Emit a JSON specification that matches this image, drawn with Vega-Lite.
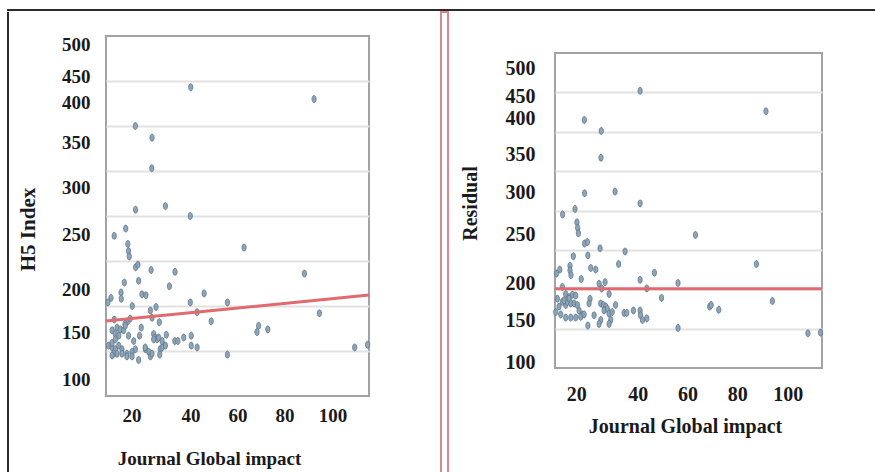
{
  "$schema": "https://vega.github.io/schema/vega-lite/v6.json",
  "padding": {"left": 7, "top": 9, "right": 0, "bottom": 0},
  "background": "white",
  "config": {
    "view": {"stroke": null},
    "font": "Liberation Serif",
    "axis": {
      "labelFont": "Liberation Serif", "labelFontWeight": "bold", "labelColor": "#1a1a1a",
      "titleFont": "Liberation Serif", "titleFontWeight": "bold", "titleColor": "#1a1a1a",
      "ticks": false, "domain": false, "labelOverlap": false, "labelFlush": false, "labelBound": false
    }
  },
  "datasets": {
    "h5": [
      {"x":40.1,"y":443},{"x":92.6,"y":430},{"x":16.5,"y":400},{"x":23.6,"y":387},{"x":23.5,"y":353},{"x":29.3,"y":311},{"x":16.6,"y":307},{"x":39.9,"y":300},{"x":12.4,"y":286},{"x":7.5,"y":278},{"x":62.8,"y":265},{"x":13.3,"y":269},{"x":13.6,"y":261},{"x":13.9,"y":255},{"x":16.6,"y":243},{"x":17.6,"y":246},{"x":23.2,"y":240},{"x":33.4,"y":238},{"x":88.5,"y":236},{"x":11.8,"y":226},{"x":17.9,"y":228},{"x":31,"y":222},{"x":45.8,"y":214},{"x":19.3,"y":213},{"x":21,"y":212},{"x":10.4,"y":215},{"x":10.5,"y":208},{"x":6.1,"y":209},{"x":4.8,"y":204},{"x":15.2,"y":200},{"x":39.9,"y":204},{"x":55.7,"y":204},{"x":25.3,"y":199},{"x":22.9,"y":195},{"x":42.8,"y":193},{"x":94.9,"y":192},{"x":23.6,"y":187},{"x":7.5,"y":185},{"x":13.3,"y":183},{"x":12.1,"y":180},{"x":26.7,"y":182},{"x":48.8,"y":183},{"x":14.3,"y":186},{"x":19,"y":176},{"x":8.7,"y":176},{"x":10.1,"y":174},{"x":11.5,"y":173},{"x":69,"y":178},{"x":68.3,"y":171},{"x":72.9,"y":174},{"x":6.6,"y":173},{"x":8,"y":169},{"x":9.4,"y":167},{"x":13.6,"y":167},{"x":18.3,"y":167},{"x":24.3,"y":169},{"x":25,"y":165},{"x":25.7,"y":163},{"x":29.7,"y":168},{"x":33.3,"y":161},{"x":34.6,"y":161},{"x":37.1,"y":165},{"x":40.3,"y":167},{"x":40.3,"y":156},{"x":42.8,"y":154},{"x":5.1,"y":156},{"x":6.6,"y":154},{"x":8,"y":152},{"x":9.4,"y":156},{"x":10.8,"y":152},{"x":16.5,"y":152},{"x":20.8,"y":152},{"x":22.2,"y":149},{"x":27.1,"y":152},{"x":28.5,"y":156},{"x":109.9,"y":154},{"x":115.4,"y":157},{"x":55.7,"y":146},{"x":17.9,"y":140},{"x":7.3,"y":147},{"x":8.7,"y":147},{"x":10.8,"y":147},{"x":12.9,"y":147},{"x":15.1,"y":149},{"x":22.9,"y":144},{"x":26.9,"y":146},{"x":27.9,"y":154},{"x":6.6,"y":159},{"x":8,"y":163},{"x":12.2,"y":178},{"x":15.8,"y":161},{"x":6.6,"y":145},{"x":12.9,"y":144},{"x":15.1,"y":144},{"x":20.7,"y":154},{"x":24.3,"y":163},{"x":26.4,"y":165},{"x":27.9,"y":161},{"x":29.3,"y":156},{"x":23.6,"y":147}
    ],
    "h5fit": [{"x":4,"y":183.3},{"x":116,"y":212.2}],
    "res": [
      {"x":39.7,"y":452},{"x":92.5,"y":426},{"x":16.3,"y":415},{"x":23.4,"y":401},{"x":23.3,"y":367},{"x":29.2,"y":324},{"x":16.4,"y":322},{"x":39.7,"y":309},{"x":12.4,"y":302},{"x":7.2,"y":295},{"x":62.9,"y":269},{"x":13.2,"y":285},{"x":13.5,"y":278},{"x":13.8,"y":271},{"x":16.4,"y":258},{"x":17.6,"y":260},{"x":22.9,"y":252},{"x":33.4,"y":248},{"x":88.5,"y":232},{"x":11.7,"y":242},{"x":17.8,"y":243},{"x":30.7,"y":232},{"x":45.7,"y":221},{"x":19,"y":227},{"x":21.1,"y":225},{"x":10.3,"y":230},{"x":10.3,"y":224},{"x":10.7,"y":218},{"x":6,"y":225},{"x":4.6,"y":220},{"x":15,"y":213},{"x":39.7,"y":212},{"x":55.6,"y":208},{"x":25,"y":209},{"x":22.5,"y":207},{"x":23.6,"y":201},{"x":7.1,"y":203},{"x":42.5,"y":201},{"x":95.2,"y":185},{"x":48.7,"y":189},{"x":26.7,"y":194},{"x":8.5,"y":194},{"x":9.9,"y":190},{"x":11.3,"y":193},{"x":12.7,"y":192},{"x":5,"y":188},{"x":7.1,"y":184},{"x":8.5,"y":180},{"x":9.2,"y":184},{"x":7.8,"y":186},{"x":9.9,"y":188},{"x":10.6,"y":182},{"x":12,"y":182},{"x":13.4,"y":180},{"x":14.1,"y":173},{"x":15.5,"y":168},{"x":4.3,"y":171},{"x":6.4,"y":168},{"x":8.5,"y":164},{"x":10.6,"y":164},{"x":12.7,"y":164},{"x":14.8,"y":165},{"x":16.2,"y":168},{"x":5.7,"y":178},{"x":18.7,"y":188},{"x":18.3,"y":182},{"x":17.8,"y":154},{"x":20.4,"y":167},{"x":23.2,"y":182},{"x":24.3,"y":180},{"x":25.3,"y":178},{"x":24.6,"y":173},{"x":26,"y":175},{"x":26.7,"y":169},{"x":28,"y":171},{"x":29.4,"y":180},{"x":23.2,"y":161},{"x":22.5,"y":156},{"x":27.4,"y":161},{"x":26.7,"y":156},{"x":33,"y":170},{"x":34.1,"y":170},{"x":36.9,"y":173},{"x":39.7,"y":173},{"x":39.9,"y":167},{"x":42.5,"y":163},{"x":40.7,"y":161},{"x":55.6,"y":151},{"x":68.9,"y":178},{"x":69.5,"y":180},{"x":72.7,"y":174},{"x":110.1,"y":144},{"x":115.4,"y":145}
    ],
    "resfit": [{"x":4,"y":200.7},{"x":116,"y":200.7}]
  },
  "spacing": 0,
  "vconcat": [
    {"width": 868, "height": 2, "data": {"values": []}, "mark": "point", "view": {"fill": "#2b2b2b", "stroke": null}},
    {
      "spacing": 0,
      "hconcat": [
        {"width": 2, "height": 461, "data": {"values": []}, "mark": "point", "view": {"fill": "#2b2b2b", "stroke": null}},
        {"width": 6.5, "height": 1, "data": {"values": []}, "mark": "point", "view": {"fill": "white", "stroke": null}},
        {
          "spacing": 0,
          "vconcat": [
            {"width": 10, "height": 21.5, "data": {"values": []}, "mark": "point", "view": {"fill": "white", "stroke": null}},
            {
              "width": 263, "height": 360,
              "view": {"stroke": "#a3a3a3", "strokeWidth": 2},
              "encoding": {
                "x": {"field": "x", "type": "quantitative", "title": "Journal Global impact",
                  "scale": {"domain": [4, 116], "nice": false, "zero": false},
                  "axis": {"values": [20, 40, 60, 80, 100], "grid": false, "labelFontSize": 19, "labelPadding": 10,
                    "labelOffset": {"expr": "datum.value == 20 ? -12 : datum.value == 100 ? 1 : 0"},
                    "titleFontSize": 19, "titlePadding": 24, "titleX": 103}},
                "y": {"field": "y", "type": "quantitative", "title": "H5 Index",
                  "scale": {"domain": [100, 500], "nice": false, "zero": false},
                  "axis": {"values": [100, 150, 200, 250, 300, 350, 400, 450, 500], "grid": true,
                    "gridColor": "#e2e2e2", "gridWidth": 2,
                    "gridOpacity": {"condition": {"test": "datum.value == 100 || datum.value == 500", "value": 0}, "value": 1},
                    "labelFontSize": 19, "labelPadding": 16,
                    "labelOffset": {"expr": "datum.value == 100 ? -17 : datum.value == 150 ? -19 : datum.value == 200 ? -17 : datum.value == 250 ? -27 : datum.value == 300 ? -29 : datum.value == 350 ? -29 : datum.value == 400 ? -24 : datum.value == 450 ? -5 : 8"},
                    "titleFontSize": 21, "titlePadding": 23, "titleY": 193}}
              },
              "layer": [
                {"data": {"name": "h5"}, "mark": {"type": "point", "shape": "M0,-1A0.6,1,0,1,1,0,1A0.6,1,0,1,1,0,-1Z", "filled": true, "size": 49, "fill": "#8ea4b7", "stroke": "#5a7389", "strokeWidth": 0.8, "opacity": 1}},
                {"data": {"name": "h5fit"}, "mark": {"type": "line", "color": "#e06a70", "strokeWidth": 3}}
              ]
            }
          ]
        },
        {"width": 64, "height": 1, "data": {"values": []}, "mark": "point", "view": {"fill": "white", "stroke": null}},
        {"width": 7, "height": 461, "data": {"values": []}, "mark": "point", "view": {"fill": "white", "stroke": "#dc858c", "strokeWidth": 2}},
        {"width": 9.5, "height": 1, "data": {"values": []}, "mark": "point", "view": {"fill": "white", "stroke": null}},
        {
          "spacing": 0,
          "vconcat": [
            {"width": 10, "height": 40, "data": {"values": []}, "mark": "point", "view": {"fill": "white", "stroke": null}},
            {
              "width": 267, "height": 315,
              "view": {"stroke": "#a3a3a3", "strokeWidth": 2},
              "encoding": {
                "x": {"field": "x", "type": "quantitative", "title": "Journal Global impact",
                  "scale": {"domain": [4, 116], "nice": false, "zero": false},
                  "axis": {"values": [20, 40, 60, 80, 100], "grid": false, "labelFontSize": 20, "labelPadding": 16,
                    "labelOffset": {"expr": "datum.value == 20 ? -17 : datum.value == 40 ? -3 : datum.value == 60 ? -1 : datum.value == 80 ? 1 : 4"},
                    "titleFontSize": 20, "titlePadding": 12, "titleX": 130}},
                "y": {"field": "y", "type": "quantitative", "title": "Residual",
                  "scale": {"domain": [100, 500], "nice": false, "zero": false},
                  "axis": {"values": [100, 150, 200, 250, 300, 350, 400, 450, 500], "grid": true,
                    "gridColor": "#e2e2e2", "gridWidth": 2,
                    "gridOpacity": {"condition": {"test": "datum.value == 100 || datum.value == 500", "value": 0}, "value": 1},
                    "labelFontSize": 20, "labelPadding": 20,
                    "labelOffset": {"expr": "datum.value == 100 ? -6 : datum.value == 150 ? -8 : datum.value == 200 ? -6 : datum.value == 250 ? -15 : datum.value == 300 ? -18 : datum.value == 350 ? -17 : datum.value == 400 ? -13 : datum.value == 450 ? 4 : 15"},
                    "titleFontSize": 20, "titlePadding": 25, "titleY": 150}}
              },
              "layer": [
                {"data": {"name": "res"}, "mark": {"type": "point", "shape": "M0,-1A0.6,1,0,1,1,0,1A0.6,1,0,1,1,0,-1Z", "filled": true, "size": 49, "fill": "#8ea4b7", "stroke": "#5a7389", "strokeWidth": 0.8, "opacity": 1}},
                {"data": {"name": "resfit"}, "mark": {"type": "line", "color": "#e06a70", "strokeWidth": 3}}
              ]
            }
          ]
        }
      ]
    }
  ]
}
